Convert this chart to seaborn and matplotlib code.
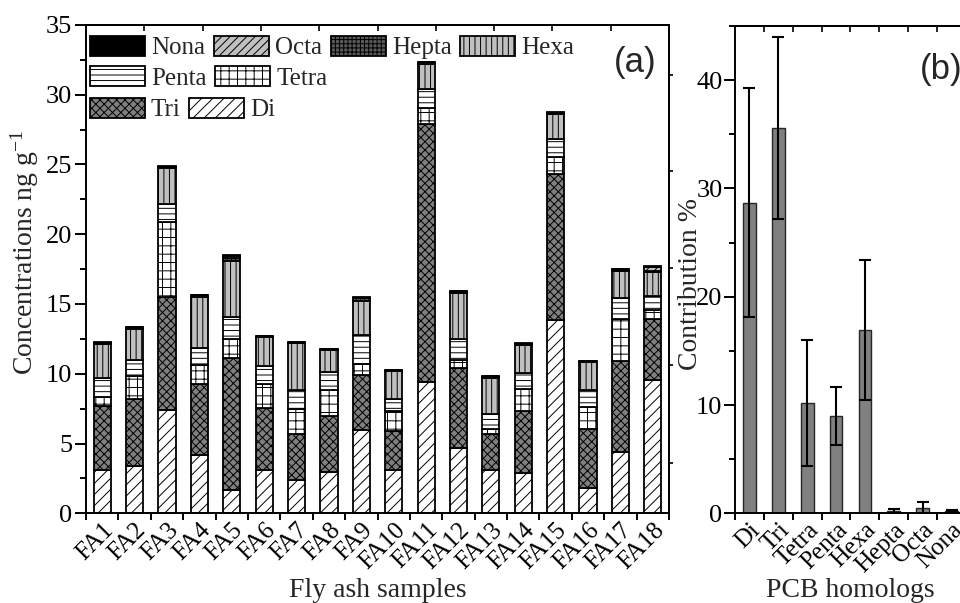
import numpy as np
import seaborn as sns
import matplotlib.pyplot as plt
from matplotlib.patches import Patch
from matplotlib.legend import Legend
from matplotlib.ticker import MultipleLocator, FixedLocator

# panel (a): homolog concentrations per fly ash sample (ng/g)
samples = [f"FA{i}" for i in range(1, 19)]
di = [3.08, 3.36, 7.37, 4.20, 1.65, 3.08, 2.41, 2.93, 5.99, 3.08, 9.40, 4.68, 3.13, 2.89, 13.86, 1.81, 4.39, 9.57]
tri = [4.58, 4.82, 8.11, 5.08, 9.47, 4.44, 3.29, 4.01, 3.94, 2.81, 18.51, 5.75, 2.52, 4.43, 10.46, 4.25, 6.49, 4.37]
tetra = [0.64, 1.65, 5.42, 1.32, 1.34, 1.76, 1.77, 1.86, 0.78, 1.43, 1.12, 0.57, 0.41, 1.58, 1.25, 1.55, 3.06, 0.64]
penta = [1.41, 1.17, 1.30, 1.23, 1.64, 1.27, 1.33, 1.34, 2.08, 0.89, 1.36, 1.46, 1.03, 1.17, 1.24, 1.19, 1.47, 1.02]
hexa = [2.44, 2.20, 2.55, 3.70, 4.01, 2.07, 3.39, 1.53, 2.46, 1.98, 1.81, 3.34, 2.62, 2.00, 1.79, 2.03, 1.98, 1.72]
hepta = [0.07, 0.10, 0.08, 0.11, 0.20, 0.05, 0.05, 0.08, 0.15, 0.04, 0.12, 0.08, 0.08, 0.07, 0.10, 0.08, 0.07, 0.06]
octa = [0.02, 0.02, 0.02, 0.02, 0.15, 0.02, 0.01, 0.02, 0.05, 0.01, 0.03, 0.02, 0.02, 0.02, 0.02, 0.02, 0.02, 0.30]
nona = [0.02, 0.02, 0.01, 0.02, 0.08, 0.01, 0.01, 0.02, 0.03, 0.01, 0.02, 0.01, 0.02, 0.01, 0.02, 0.02, 0.01, 0.05]

# panel (b): mean contribution (%) and standard deviation
homologs = ["Di", "Tri", "Tetra", "Penta", "Hexa", "Hepta", "Octa", "Nona"]
contrib_mean = [28.7, 35.6, 10.2, 9.0, 16.95, 0.2, 0.5, 0.2]
contrib_sd = [10.55, 8.4, 5.8, 2.65, 6.45, 0.15, 0.55, 0.12]

series = {"Di": di, "Tri": tri, "Tetra": tetra, "Penta": penta,
          "Hexa": hexa, "Hepta": hepta, "Octa": octa, "Nona": nona}
styles = {
    "Di": ("white", "///"),
    "Tri": ("#7f7f7f", "xxxx"),
    "Tetra": ("white", "++"),
    "Penta": ("white", "---"),
    "Hexa": ("#c0c0c0", "|||"),
    "Hepta": ("#5a5a5a", "++++"),
    "Octa": ("#c0c0c0", "////"),
    "Nona": ("black", ""),
}

sns.set_style("ticks", {"axes.edgecolor": "black", "xtick.color": "black", "ytick.color": "black"})
plt.rcParams["font.family"] = ["Liberation Serif", "DejaVu Serif"]
plt.rcParams["mathtext.default"] = "regular"
plt.rcParams["hatch.linewidth"] = 0.7
plt.rcParams["axes.linewidth"] = 1.4

fig = plt.figure(figsize=(9.6, 6.03), dpi=100)
ax1 = fig.add_axes([0.0896, 0.1488, 0.6073, 0.8098])
ax2 = fig.add_axes([0.7656, 0.1488, 0.2406, 0.808])

# stacked bars, Di at the bottom
bottom = np.zeros(len(samples))
for name in homologs:
    vals = np.array(series[name])
    fc, hatch = styles[name]
    sns.barplot(x=samples, y=vals, ax=ax1, color=fc, saturation=1, errorbar=None,
                width=0.53, bottom=bottom, hatch=hatch, edgecolor="black", linewidth=1.3)
    bottom += vals

ax1.set_ylim(0, 35)
ax1.yaxis.set_major_locator(MultipleLocator(5))
ax1.yaxis.set_minor_locator(MultipleLocator(2.5))
ax1.tick_params(axis="y", which="major", direction="out", length=8, width=1.4, labelsize=19, pad=2)
ax1.tick_params(axis="y", which="minor", direction="out", length=4, width=1.4)
ax1.xaxis.set_minor_locator(FixedLocator(np.arange(-0.5, 18, 1)))
ax1.tick_params(axis="x", which="major", length=0, labelsize=18, pad=4)
ax1.tick_params(axis="x", which="minor", direction="out", length=5, width=1.4)
for lab in ax1.get_xticklabels():
    lab.set_rotation(45)
    lab.set_ha("right")
    lab.set_rotation_mode("anchor")

top1 = ax1.secondary_xaxis("top")
top1.set_xticks(np.linspace(-0.5, 17.5, 11))
top1.tick_params(direction="in", length=4, width=1.2, labeltop=False)
right1 = ax1.secondary_yaxis("right")
right1.set_yticks([3.6, 10.6, 17.6, 24.5, 31.4])
right1.tick_params(direction="out", length=3, width=1.2, labelright=False)

ax1.set_xlabel("Fly ash samples", fontsize=20)
ax1.xaxis.set_label_coords(0.5, -0.133)
ax1.set_ylabel("Concentrations ng g$^{-1}$", fontsize=20)
ax1.yaxis.set_label_coords(-0.077, 0.535)
ax1.text(0.979, 0.924, "(a)", transform=ax1.transAxes, ha="right", va="center",
         fontsize=25, family=["Liberation Sans", "DejaVu Sans"])

# legend laid out in three rows like the original
rows = [["Nona", "Octa", "Hepta", "Hexa"], ["Penta", "Tetra"], ["Tri", "Di"]]
row_y = [0.9535, 0.891, 0.827]
for names, y in zip(rows, row_y):
    handles = [Patch(facecolor=styles[n][0], hatch=styles[n][1], edgecolor="black", linewidth=1.3)
               for n in names]
    leg = Legend(ax1, handles, names, ncol=len(names), loc="center left",
                 bbox_to_anchor=(0.006, y), frameon=False, fontsize=18,
                 handlelength=2.2, handleheight=0.85, handletextpad=0.25,
                 columnspacing=0.35, borderpad=0, borderaxespad=0)
    ax1.add_artist(leg)

# panel (b)
sns.barplot(x=homologs, y=contrib_mean, ax=ax2, color="#808080", saturation=1, errorbar=None,
            width=0.44, edgecolor="#262626", linewidth=1.0, yerr=contrib_sd,
            error_kw=dict(ecolor="black", elinewidth=1.5, capsize=4, capthick=1.5))
ax2.set_ylim(0, 45)
ax2.yaxis.set_major_locator(MultipleLocator(10))
ax2.yaxis.set_minor_locator(MultipleLocator(5))
ax2.tick_params(axis="y", which="major", direction="out", length=8, width=1.4, labelsize=19, pad=1)
ax2.tick_params(axis="y", which="minor", direction="out", length=4, width=1.4)
ax2.xaxis.set_minor_locator(FixedLocator(np.arange(-0.5, 8, 1)))
ax2.tick_params(axis="x", which="major", length=0, labelsize=18, pad=4)
ax2.tick_params(axis="x", which="minor", direction="out", length=5, width=1.4)
for lab in ax2.get_xticklabels():
    lab.set_rotation(45)
    lab.set_ha("right")
    lab.set_rotation_mode("anchor")

top2 = ax2.secondary_xaxis("top")
top2.set_xticks(np.arange(0.5, 7, 1))
top2.tick_params(direction="in", length=4, width=1.2, labeltop=False)

ax2.set_xlabel("PCB homologs", fontsize=20)
ax2.xaxis.set_label_coords(0.5, -0.1335)
ax2.set_ylabel("Contribution %", fontsize=20)
ax2.yaxis.set_label_coords(-0.14, 0.47)
ax2.text(0.80, 0.91, "(b)", transform=ax2.transAxes, ha="left", va="center",
         fontsize=25, family=["Liberation Sans", "DejaVu Sans"])

fig.savefig("out.png", dpi=100)
